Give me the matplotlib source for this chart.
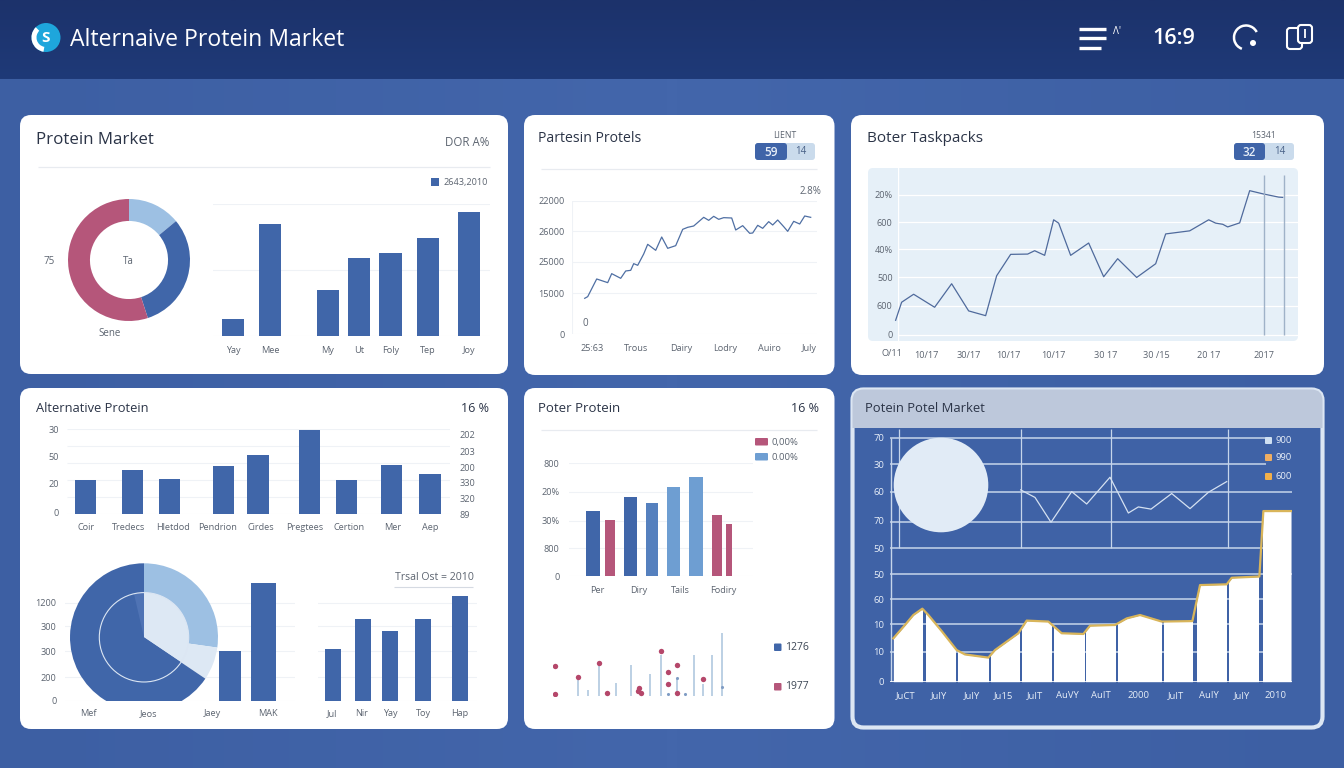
import numpy as np
import matplotlib
matplotlib.use("Agg")
import matplotlib.pyplot as plt
from matplotlib.patches import FancyBboxPatch, Rectangle, Circle, Arc, Wedge

W, H = 1344, 768
plt.rcParams['font.family'] = ['Open Sans', 'DejaVu Sans']

BLUE = '#4066A9'
PINK = '#B5567A'
LIGHT = '#9DC0E3'
PALE = '#DDE8F4'
MID = '#5580BE'
SKY = '#6E9ED2'
GRID = '#EFF2F6'
TXT = '#5C6470'
DARK = '#2B3447'

# card 1 - market bars and donut
donut_vals = [14, 31, 55]
market_x = [0, 1, 2.53, 3.36, 4.2, 5.2, 6.3]
market_vals = [13, 85, 35, 59, 63, 74, 94]
market_labels = ['Yay', 'Mee', 'My', 'Ut', 'Foly', 'Tep', 'Joy']

# card 2 - noisy line
line2_x = [13, 16, 25, 36, 40, 49, 54, 59, 62, 66, 72, 76, 84, 90, 96, 104, 111, 116, 122, 132,
           137, 142, 147, 152, 160, 164, 171, 178, 181, 186, 191, 197, 201, 206, 212, 216, 222, 228, 233, 239]
line2_y = [5940, 6215, 9130, 8525, 10010, 9240, 10450, 10560, 11660, 11385, 13255, 14850, 13860, 16060,
           14190, 14630, 17325, 17655, 17875, 19305, 18810, 19470, 18975, 19250, 19195, 17215, 17930,
           16665, 16720, 17985, 17490, 18590, 18040, 18865, 17765, 16995, 18645, 18205, 19525, 19305]
line2_ticks = [0, 6765, 11990, 16995, 22000]
line2_ticklabels = ['0', '15000', '25000', '26000', '22000']
line2_xticks = [20, 64, 110, 153, 198, 238]
line2_xlabels = ['25:63', 'Trous', 'Dairy', 'Lodry', 'Auiro', 'July']

# card 3 - line on pale panel
line3_x = [0, 6, 18, 39, 56, 73, 90, 101, 115, 132, 139, 149, 158, 163, 175, 193, 208, 222, 241, 260,
           270, 294, 313, 320, 327, 332, 344, 354, 368, 383, 387]
line3_y = [10.3, 23.2, 28.9, 19.6, 36.4, 17.0, 13.6, 42.1, 57.4, 57.6, 60.0, 56.7, 82.1, 79.7, 56.7,
           65.5, 41.4, 54.3, 40.9, 50.7, 72.0, 74.2, 82.1, 79.7, 78.9, 77.0, 79.9, 102.9, 100.5, 98.3, 98.1]
line3_ticks = [0, 20.8, 40.9, 60.9, 80.3, 100]
line3_ticklabels = ['0', '600', '500', '40%', '600', '20%']
line3_xticks = [31, 73, 113, 158, 210, 261, 313, 368]
line3_xlabels = ['10/17', '30/17', '10/17', '10/17', '30 17', '30 /15', '20 17', '2017']
line3_marks = [368, 388]

# card 4 - upper bars
alt_x = [0, 1.085, 1.953, 3.2, 4.008, 5.2, 6.06, 7.116, 8.008]
alt_vals = [20.1, 25.8, 20.5, 28.3, 35.0, 49.2, 19.9, 28.7, 23.4]
alt_xticks = [0, 0.99, 2.02, 3.07, 4.07, 5.1, 6.13, 7.13, 8.0]
alt_labels = ['Coir', 'Tredecs', 'Hletdod', 'Pendrion', 'Cirdes', 'Pregtees', 'Certion', 'Mer', 'Aep']
alt_left_ticks = [49.8, 33.8, 18.2, 1.2]
alt_left_labels = ['30', '50', '20', '0']
alt_right_ticks = [46.9, 36.9, 27.5, 18.4, 9.0, 0]
alt_right_labels = ['202', '203', '200', '330', '320', '89']

# card 4 - lower pie and bars
pie_outer = [98, 26, 236]
pie_inner = [124, 223, 13]
low_left_x = [2.36, 2.92]
low_left_vals = [606, 1444]
low_left_w = [0.378, 0.41]
low_left_xticks = [0, 1.01, 2.07, 3]
low_left_labels = ['Mef', 'Jeos', 'Jaey', 'MAK']
low_right_x = [0, 0.98, 1.88, 2.95, 4.15]
low_right_vals = [639, 997, 854, 997, 1285]
low_right_xticks = [-0.03, 0.93, 1.88, 2.96, 4.15]
low_right_labels = ['Jul', 'Nir', 'Yay', 'Toy', 'Hap']
low_grid = [0, 289, 606, 915, 1200]
low_ticklabels = ['0', '200', '300', '300', '1200']

# card 5 - grouped bars and lollipops
poter_x = [-0.104, 0.296, 0.784, 1.304, 1.824, 2.356, 2.868, 3.156]
poter_vals = [465, 399, 559, 517, 630, 706, 432, 371]
poter_w = [0.336, 0.224, 0.32, 0.304, 0.32, 0.328, 0.248, 0.152]
poter_colors = [BLUE, PINK, BLUE, MID, SKY, SKY, PINK, PINK]
poter_ticks = [0, 198, 394, 599, 800]
poter_ticklabels = ['0', '800', '30%', '20%', '800']
poter_xticks = [0, 0.976, 1.984, 3.008]
poter_labels = ['Per', 'Diry', 'Tails', 'Fodiry']
stem_x = [24.3, 34.7, 46, 62.7, 78, 96.3, 107.3, 123.3, 140.3, 149.7, 159, 169]
stem_y = [24.4, 8.8, 50.4, 20.3, 47.8, 33.3, 63.4, 28, 63.4, 17.7, 63.4, 97.2]
dot_x = [2, 2, 24.3, 46, 54, 86, 88, 84.7, 108, 115, 115, 124, 124, 149.7]
dot_y = [46.8, 3.1, 29.6, 50.4, 3.6, 11.4, 3.6, 7.3, 70.2, 36.4, 18.2, 47.8, 3.6, 25.5]
small_x = [115, 123.3, 132, 169]
small_y = [2.1, 28, 2.1, 14]

# card 6 - dark panel
area_x = [0.1, 0.45, 0.7, 0.97, 1.15, 1.55, 2, 2.25, 2.95, 3.15, 3.85, 4.1, 4.75, 5.15, 5.8, 6, 6.75,
          7.1, 7.5, 8.15, 9.07, 9.3, 10.1, 10.25, 11.08, 11.2, 12.03]
area_y = [17.8, 23.3, 27.4, 30, 27.4, 20.8, 13, 11.2, 9.9, 13, 19.9, 25.1, 24.7, 19.9, 19.6, 23, 23.3,
          26, 27.4, 24.7, 24.9, 39.7, 40, 42.7, 43.2, 70.1, 70.1]
col_start = [0.1, 1.08, 2.05, 3.02, 3.97, 4.93, 5.89, 6.85, 8.23, 9.2, 10.18, 11.19]
col_end = [0.97, 1.95, 2.93, 3.87, 4.83, 5.81, 6.75, 8.12, 9.07, 10.07, 11.05, 12.03]
thin_x = [3.92, 4.35, 4.83, 5.45, 5.9, 6.6, 7.15, 7.45, 7.83, 8.45, 9, 9.55, 10.1]
thin_y = [78.8, 75.7, 65.5, 78.1, 73.0, 84.0, 69.3, 71.8, 70.9, 77.3, 71.1, 77.8, 82.2]
dark_grid = [12.3, 23.6, 33.8, 44.1, 54.8, 65.8, 78.1, 89.6, 100]
dark_grid_end = [11.27, 11.27, 11.27, 12.05, 11.2, 11.2, 12.05, 11.27, 11.27]
dark_ticks = [0, 12.3, 23.3, 33.8, 44.1, 54.9, 66.2, 78.1, 89.3, 100.3]
dark_ticklabels = ['0', '10', '10', '60', '50', '50', '70', '60', '30', '70']
dark_vlines = [0.28, 3.92, 6.62, 10.15]
dark_xticks = [0.47, 1.47, 2.45, 3.41, 4.35, 5.33, 6.33, 7.45, 8.57, 9.57, 10.55, 11.55]
dark_labels = ['JuCT', 'JuIY', 'JuIY', 'Ju15', 'JuIT', 'AuVY', 'AuIT', '2000', 'JuIT', 'AuIY', 'JuIY', '2010']


def px_axes(x0, y0, x1, y1, zorder=2):
    ax = fig.add_axes([x0 / W, 1 - y1 / H, (x1 - x0) / W, (y1 - y0) / H], zorder=zorder)
    ax.patch.set_alpha(0)
    for s in ax.spines.values():
        s.set_visible(False)
    ax.tick_params(length=0, labelsize=6.6, labelcolor=TXT)
    return ax


def card(x0, y0, x1, y1, fc='white', ec='none', lw=0):
    p = FancyBboxPatch((x0, y0), x1 - x0, y1 - y0, boxstyle='round,pad=0,rounding_size=11',
                       fc=fc, ec=ec, lw=lw, zorder=2)
    bg.add_patch(p)
    return p


def legend_box(x0, y0, w, h, color):
    top.add_patch(FancyBboxPatch((x0, y0), w, h, boxstyle='round,pad=0,rounding_size=1', fc=color, ec='none'))


fig = plt.figure(figsize=(W / 100, H / 100), dpi=100)

# background and cards
bg = fig.add_axes([0, 0, 1, 1], zorder=0)
bg.axis('off')
grad = np.tile(np.abs(np.linspace(-1, 1, 256)), (64, 1))
bg.imshow(grad, extent=(0, W, H, 0), aspect='auto', zorder=0, interpolation='bilinear',
          cmap=matplotlib.colors.LinearSegmentedColormap.from_list('b', ['#4366AB', '#3D5FA3']))
head = np.linspace(0, 1, 64).reshape(-1, 1)
bg.imshow(head, extent=(0, W, 79, 0), aspect='auto', zorder=1, interpolation='bilinear',
          cmap=matplotlib.colors.LinearSegmentedColormap.from_list('h', ['#1C326B', '#1F3A78']))
bg.set_xlim(0, W)
bg.set_ylim(H, 0)

card(20, 115, 508, 374)
card(524, 115, 834.5, 375)
card(851, 115, 1324, 375)
card(20, 388, 508, 729)
card(524, 388, 834.5, 729)
c6 = card(852.5, 389.5, 1322.5, 727.5, fc='#3F62A6', ec='#DCE6F3', lw=3)
hdr = Rectangle((851, 388), 473, 40, fc='#BDC8DB', ec='none', zorder=2.5)
bg.add_patch(hdr)
hdr.set_clip_path(c6)
bg.add_patch(FancyBboxPatch((868, 168), 430, 173, boxstyle='round,pad=0,rounding_size=5',
                            fc='#E6F0F8', ec='none', zorder=3))

# card 1 bars
ax = px_axes(213, 204, 490, 336)
ax.bar(market_x, market_vals, width=0.59, color=BLUE, zorder=3)
ax.set_yticks([0, 50, 100])
ax.set_yticklabels([])
ax.grid(axis='y', color=GRID, lw=0.8)
ax.set_axisbelow(True)
ax.set_xticks(market_x)
ax.set_xticklabels(market_labels)
ax.set_xlim(-0.53, 6.85)
ax.set_ylim(0, 100)
ax.tick_params(axis='x', pad=7)

# card 1 donut
ax = px_axes(68, 199, 190, 321)
ax.pie(donut_vals, colors=[LIGHT, BLUE, PINK], startangle=90, counterclock=False,
       wedgeprops={'width': 0.36, 'linewidth': 0})
ax.set_xlim(-1, 1)
ax.set_ylim(-1, 1)

# card 2 line
ax = px_axes(571.7, 201, 816.7, 334.3)
ax.plot(line2_x, line2_y, color='#4F6FA3', lw=0.9, zorder=3)
ax.set_yticks(line2_ticks)
ax.set_yticklabels(line2_ticklabels)
ax.set_xticks(line2_xticks)
ax.set_xticklabels(line2_xlabels)
ax.set_xlim(0, 245)
ax.set_ylim(0, 22000)
ax.grid(axis='y', color=GRID, lw=0.8)
ax.axvline(0, color=GRID, lw=0.8)
ax.tick_params(axis='x', pad=7)
ax.tick_params(axis='y', pad=5)

# card 3 line
ax = px_axes(898.3, 168, 1299, 341, zorder=4)
ax.plot(line3_x, line3_y, color='#4F6A9C', lw=0.9, zorder=3, clip_on=False)
ax.set_yticks(line3_ticks)
ax.set_yticklabels(line3_ticklabels)
ax.set_xticks(line3_xticks)
ax.set_xticklabels(line3_xlabels)
ax.set_xlim(2.67, 403.3)
ax.set_ylim(-4.5, 119.1)
ax.grid(axis='y', color='white', lw=0.9)
ax.vlines(line3_marks, 0, 114.3, color='#9FB2C8', lw=1.0, zorder=3)
ax.axvline(2.67, color='white', lw=1)
ax.tick_params(axis='x', pad=7)
ax.tick_params(axis='y', pad=4)

# card 4 upper bars
ax = px_axes(66.7, 429, 450, 514.3)
ax.bar(alt_x, alt_vals, width=0.496, color=BLUE, zorder=3)
ax.set_yticks(alt_left_ticks)
ax.set_yticklabels(alt_left_labels)
ax.set_xticks(alt_xticks)
ax.set_xticklabels(alt_labels)
ax.hlines([0, 10, 20, 30, 40, 50], -0.44, 8.47, color=GRID, lw=0.8, zorder=1)
ax.set_xlim(-0.44, 8.47)
ax.set_ylim(0, 50)
ax.tick_params(axis='x', pad=6.5)
ax.tick_params(axis='y', pad=5.5)
tw = ax.twinx()
tw.patch.set_alpha(0)
for s in tw.spines.values():
    s.set_visible(False)
tw.set_yticks(alt_right_ticks)
tw.set_yticklabels(alt_right_labels)
tw.set_ylim(0, 50)
tw.tick_params(length=0, labelsize=6.6, labelcolor=TXT, pad=7)

# card 4 lower bars, two groups
ylim_low = (0, 1538)
ax = px_axes(65, 575, 295, 701)
ax.bar(low_left_x, low_left_vals, width=low_left_w, color=BLUE, zorder=3)
ax.set_yticks(low_grid)
ax.set_yticklabels(low_ticklabels)
ax.set_xticks(low_left_xticks)
ax.set_xticklabels(low_left_labels)
ax.set_xlim(-0.389, 3.444)
ax.set_ylim(*ylim_low)
ax.grid(axis='y', color=GRID, lw=0.8)
ax.set_axisbelow(True)
ax.tick_params(axis='x', pad=6)
ax.tick_params(axis='y', pad=6)

ax = px_axes(318.3, 575, 476.7, 701)
ax.bar(low_right_x, low_right_vals, width=0.52, color=BLUE, zorder=3)
ax.set_yticks(low_grid)
ax.set_yticklabels([])
ax.set_xticks(low_right_xticks)
ax.set_xticklabels(low_right_labels)
ax.set_xlim(-0.47, 4.69)
ax.set_ylim(*ylim_low)
ax.grid(axis='y', color=GRID, lw=0.8)
ax.set_axisbelow(True)
ax.tick_params(axis='x', pad=6)

# card 4 pie, cut off at the baseline
ax = px_axes(70, 563.3, 218, 701, zorder=3)
outer, _ = ax.pie(pie_outer, colors=[LIGHT, PALE, BLUE], startangle=90, counterclock=False, radius=1,
                  wedgeprops={'linewidth': 0})
inner, _ = ax.pie(pie_inner, colors=[PALE, BLUE, '#4F73B4'], startangle=90, counterclock=False, radius=0.604,
                  wedgeprops={'linewidth': 0})
for w in outer + inner:
    w.set_clip_on(True)
ax.add_patch(Circle((0, 0), 0.604, fc='none', ec='#DCE6F3', lw=0.8))
ax.set_xlim(-1, 1)
ax.set_ylim(-0.861, 1)

# card 5 bars
ax = px_axes(569.3, 463.3, 753.3, 576.3)
ax.bar(poter_x, poter_vals, width=poter_w, color=poter_colors, zorder=3)
ax.set_yticks(poter_ticks)
ax.set_yticklabels(poter_ticklabels)
ax.set_xticks(poter_xticks)
ax.set_xticklabels(poter_labels)
ax.set_xlim(-0.68, 3.736)
ax.set_ylim(0, 800)
ax.grid(axis='y', color=GRID, lw=0.8)
ax.set_axisbelow(True)
ax.tick_params(axis='x', pad=7)
ax.tick_params(axis='y', pad=7)

# card 5 lollipops
ax = px_axes(553.3, 631.7, 728.3, 695.7)
ax.vlines(stem_x, 0, stem_y, color='#A9C3DC', lw=1.1)
ax.scatter(small_x, small_y, s=5, color='#7F9CC4', zorder=3, linewidths=0)
ax.scatter(dot_x, dot_y, s=15, color='#B5476A', zorder=4, linewidths=0)
ax.set_xlim(0, 175)
ax.set_ylim(0, 100)
ax.set_xticks([])
ax.set_yticks([])

# card 6 chart
ax = px_axes(890, 428.3, 1291.7, 681.7)
ax.hlines(dark_grid, 0, dark_grid_end, color='#C6D5EA', lw=1.1, zorder=1)
ax.vlines(dark_vlines, 54.8, 104, color='#C6D5EA', lw=0.9, zorder=1)
for a, b in zip(col_start, col_end):
    f = ax.fill_between(area_x, area_y, 0, color='white', lw=0, zorder=2)
    f.set_clip_path(Rectangle((a, 0), b - a, 105, transform=ax.transData))
ax.plot(area_x, area_y, color='#D9B55A', lw=1.6, zorder=3)
ax.plot(thin_x, thin_y, color='#D5E1F1', lw=0.9, zorder=3)
ax.axhline(0, color='white', lw=1.2, zorder=3)
ax.vlines([0.02], 0, 100, color='#C6D5EA', lw=1.0, zorder=2)
ax.set_yticks(dark_ticks)
ax.set_yticklabels(dark_ticklabels)
ax.set_xticks(dark_xticks)
ax.set_xticklabels(dark_labels)
ax.set_xlim(0, 12.05)
ax.set_ylim(0, 104.1)
ax.tick_params(labelcolor='#E6EDF7', labelsize=6.8)
ax.tick_params(axis='x', pad=7)
ax.tick_params(axis='y', pad=4)

# overlay for titles, legends, icons
top = fig.add_axes([0, 0, 1, 1], zorder=6)
top.set_xlim(0, W)
top.set_ylim(H, 0)
top.axis('off')

top.add_patch(Circle((46, 37.5), 14.5, fc='#1EA6DC', ec='none'))
top.add_patch(Wedge((46, 37.5), 14.5, 100, 225, width=5, fc='white', ec='none'))
top.text(46, 38, 'S', color='white', fontsize=11, ha='center', va='center', weight='bold')
top.text(70, 39.5, 'Alternaive Protein Market', color='white', fontsize=16.6, va='center', ha='left', weight='medium')

top.hlines([29, 38], 1079, 1106, color='white', lw=2.4)
top.hlines(48, 1079, 1101, color='white', lw=2.4)
top.text(1117, 31, "\u039b'", color='white', fontsize=7, ha='center', va='center')
top.text(1174, 38, '16:9', color='white', fontsize=15.5, ha='center', va='center', weight='semibold')
top.add_patch(Arc((1246, 37.5), 24, 24, theta1=110, theta2=333, color='white', lw=1.8))
top.add_patch(Circle((1253, 43), 3, fc='white', ec='none'))
top.add_patch(FancyBboxPatch((1287, 28), 15, 21, boxstyle='round,pad=0,rounding_size=3', fc='none', ec='white', lw=1.5))
top.add_patch(FancyBboxPatch((1298, 25), 14, 18, boxstyle='round,pad=0,rounding_size=3', fc='#1D3570', ec='white', lw=1.5))
top.vlines(1305, 29, 38, color='white', lw=1.3)

title_kw = dict(color=DARK, va='center', ha='left')
top.text(36, 139.5, 'Protein Market', fontsize=12.2, **title_kw)
top.text(538, 138.5, 'Partesin Protels', fontsize=10.1, **title_kw)
top.text(867, 138.5, 'Boter Taskpacks', fontsize=11, **title_kw)
top.text(36, 408, 'Alternative Protein', fontsize=9.3, **title_kw)
top.text(538, 408, 'Poter Protein', fontsize=9.5, **title_kw)
top.text(865, 408, 'Potein Potel Market', fontsize=9.4, **title_kw)

top.text(489, 142, 'DOR A%', fontsize=8.3, color=TXT, ha='right', va='center')
top.text(489, 408, '16 %', fontsize=9, color=DARK, ha='right', va='center')
top.text(819, 408, '16 %', fontsize=9, color=DARK, ha='right', va='center')
top.text(892, 353, 'O/11', fontsize=6.6, color=TXT, ha='center', va='center')

for x0, y0, x1 in [(38, 167, 490), (541, 169, 817), (541, 430, 817)]:
    top.hlines(y0, x0, x1, color='#E8EBF0', lw=0.9)

# badges
for cx, head_txt, a, b, split in [(785, 'LIENT', '59', '14', 787), (1264, '15341', '32', '14', 1265)]:
    top.text(cx, 135, head_txt, fontsize=6.2, color=TXT, ha='center', va='center')
    x0 = cx - 30
    top.add_patch(FancyBboxPatch((x0, 143), 60, 17, boxstyle='round,pad=0,rounding_size=3', fc='#CADBEC', ec='none'))
    top.add_patch(FancyBboxPatch((x0, 143), split - x0, 17, boxstyle='round,pad=0,rounding_size=3', fc='#3F64A8', ec='none'))
    top.text((x0 + split) / 2, 152, a, fontsize=8.5, color='#E8EFF8', ha='center', va='center', weight='semibold')
    top.text((split + x0 + 60) / 2, 152, b, fontsize=7, color='#4A6288', ha='center', va='center')

# card 1 extras
top.add_patch(Rectangle((431, 178), 8, 8, fc=BLUE, ec='none'))
top.text(444, 182.5, '2643,2010', fontsize=6.6, color=TXT, va='center')
top.text(49, 261.5, '75', fontsize=7, color=TXT, ha='center', va='center')
top.text(128, 261.5, 'Ta', fontsize=7, color=TXT, ha='center', va='center')
top.text(110, 333.5, 'Sene', fontsize=7, color=TXT, ha='center', va='center')

# card 2 extras
top.text(811, 191, '2.8%', fontsize=7, color=TXT, ha='center', va='center')
top.text(585, 324, '0', fontsize=7, color=TXT, ha='center', va='center')

# card 4 extras
top.text(474, 578, 'Trsal Ost = 2010', fontsize=7.6, color=TXT, ha='right', va='center')
top.hlines(587, 394, 473, color='#D5DAE2', lw=0.8)

# card 5 legends
legend_box(755, 438, 13, 7.5, PINK)
legend_box(755, 453, 13, 7.5, SKY)
top.text(772, 442, '0,00%', fontsize=6.8, color=TXT, va='center')
top.text(772, 457, '0.00%', fontsize=6.8, color=TXT, va='center')
legend_box(774, 643.5, 7.5, 7.5, BLUE)
legend_box(774, 683, 7.5, 7.5, PINK)
top.text(785.5, 648, '1276', fontsize=7.5, color='#3B4554', va='center')
top.text(785.5, 686.5, '1977', fontsize=7.5, color='#3B4554', va='center')

# card 6 extras
top.add_patch(Circle((941, 485), 47.3, fc='#E1EBF6', ec='none'))
for y0, c, t in [(437, '#CFE0F2', '900'), (454, '#F0AE62', '990'), (473, '#F3B04A', '600')]:
    legend_box(1265, y0, 7, 7, c)
    top.text(1275.5, y0 + 3.5, t, fontsize=6.8, color='#E6EDF7', va='center')

fig.savefig('out.png', dpi=100)
